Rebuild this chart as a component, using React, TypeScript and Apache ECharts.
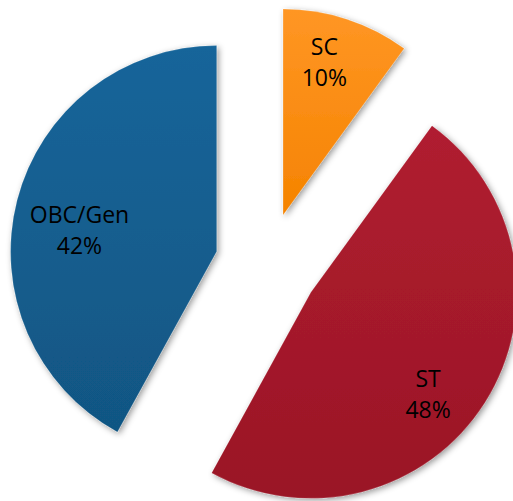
import React, { useEffect, useRef } from "react";
import * as echarts from "echarts";

const categories = ["SC", "ST", "OBC/Gen"];
const values = [10, 48, 42];
const topColors = ["#FF9624", "#B01D30", "#16659A"];
const bottomColors = ["#F58300", "#9A1626", "#115683"];
const labelOffsets: [number, number][] = [
  [-6, -8],
  [-12, 19],
  [11, 16],
];

export default function App() {
  const ref = useRef<HTMLDivElement>(null);
  useEffect(() => {
    document.body.style.margin = "0";
    const chart = echarts.init(ref.current!, null, { renderer: "svg" });
    const center = [267, 264.5];
    const mainData = categories.map((name, i) => ({
      name,
      value: values[i],
      selected: true,
      itemStyle: {
        color: new echarts.graphic.LinearGradient(0, 0, 0, 1, [
          { offset: 0, color: topColors[i] },
          { offset: 1, color: bottomColors[i] },
        ]),
        borderColor: "rgba(255,255,255,0.15)",
        borderWidth: 1,
        shadowBlur: 6,
        shadowOffsetX: 2,
        shadowOffsetY: 2,
        shadowColor: "rgba(0,0,0,0.4)",
      },
    }));
    const labelData = categories.map((name, i) => ({
      name,
      value: values[i],
      selected: true,
    }));
    chart.setOption({
      animation: false,
      series: [
        {
          type: "pie",
          center,
          radius: [0, 206],
          startAngle: 90,
          clockwise: true,
          selectedMode: "multiple",
          selectedOffset: 52,
          silent: true,
          label: { show: false },
          labelLine: { show: false },
          emphasis: { disabled: true },
          data: mainData,
        },
        {
          type: "pie",
          center,
          radius: [94, 206],
          startAngle: 90,
          clockwise: true,
          selectedMode: "multiple",
          selectedOffset: 52,
          silent: true,
          itemStyle: { color: "rgba(0,0,0,0)" },
          labelLine: { show: false },
          emphasis: { disabled: true },
          label: {
            show: true,
            position: "inside",
            formatter: (p: any) => `${p.name}\n${Math.round(p.percent)}%`,
            fontFamily: "Open Sans",
            fontSize: 23,
            lineHeight: 31,
            color: "#000",
            align: "center",
          },
          labelLayout: (params: any) => {
            const o = labelOffsets[params.dataIndex] || [0, 0];
            return { dx: o[0], dy: o[1] };
          },
          data: labelData,
        },
      ],
    });
    return () => chart.dispose();
  }, []);
  return <div ref={ref} style={{ width: 513, height: 501 }} />;
}
